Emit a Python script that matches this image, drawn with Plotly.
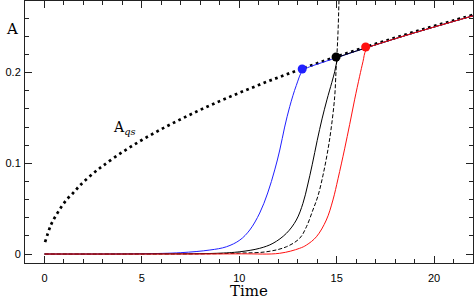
import plotly.graph_objects as go

# Quasi-steady curve A_qs (dotted)
t_qs = [0.03, 0.33, 0.63, 0.9, 1.17, 1.46, 1.73, 2.0, 2.5, 3, 4, 5, 6, 7, 8, 9, 10,
        11, 12, 13, 14, 15, 16, 17, 18, 19, 20, 21, 22]
a_qs = [0.013, 0.032, 0.044, 0.053, 0.0607, 0.067, 0.0736, 0.0794, 0.0889, 0.0973,
        0.1124, 0.1257, 0.1377, 0.1487, 0.159, 0.1686, 0.1777, 0.1864, 0.1947,
        0.2026, 0.2103, 0.2177, 0.2248, 0.2317, 0.2384, 0.245, 0.2513, 0.2575, 0.2636]

# Blue run
t_blue = [0, 5, 7, 8.49, 9.34, 10.03, 10.54, 11.05, 11.46, 11.82, 12.08, 12.33, 12.59,
          12.93, 13.26, 13.6, 14, 15, 16, 17, 18, 19, 20, 21, 22]
a_blue = [0, 0.0003, 0.0015, 0.0044, 0.008, 0.0154, 0.0265, 0.0452, 0.0673, 0.0927,
          0.1147, 0.140, 0.1625, 0.186, 0.2025, 0.2063, 0.2093, 0.2165, 0.2238, 0.2307,
          0.2374, 0.244, 0.2503, 0.2565, 0.2626]

# Black solid run
t_black = [0, 5, 8.83, 10.03, 11.05, 11.73, 12.42, 12.93, 13.27, 13.5, 13.75, 14.0,
           14.25, 14.5, 14.75, 14.9, 15.0, 15.15, 15.4, 16, 17, 18, 19, 20, 21, 22]
a_black = [0, 0.0001, 0.0008, 0.0025, 0.0063, 0.0118, 0.0228, 0.0375, 0.0559, 0.075,
           0.099, 0.125, 0.149, 0.170, 0.189, 0.201, 0.211, 0.2172, 0.2195, 0.2238,
           0.2307, 0.2374, 0.244, 0.2503, 0.2565, 0.2626]

# Black dashed run (blows up)
t_dash = [0, 8, 10, 11.4, 12.42, 13.1, 13.45, 13.78, 14.04, 14.3, 14.55, 14.73, 14.9,
          14.97, 15.02, 15.07, 15.12, 15.16]
a_dash = [0, 0.0002, 0.001, 0.0025, 0.008, 0.0173, 0.0301, 0.0485, 0.064, 0.087,
          0.1147, 0.1404, 0.1735, 0.203, 0.222, 0.245, 0.28, 0.32]

# Red run
t_red = [0, 10, 12.07, 13.1, 13.45, 13.96, 14.47, 14.81, 15.07, 15.41, 15.67, 15.92,
         16.18, 16.35, 16.5, 16.75, 17, 18, 19, 20, 21, 22]
a_red = [0, 0.0002, 0.0008, 0.0063, 0.0099, 0.019, 0.0375, 0.0596, 0.083, 0.116,
         0.143, 0.170, 0.196, 0.212, 0.2245, 0.2288, 0.2307, 0.2374, 0.244, 0.2503,
         0.2565, 0.2626]

# Marker points where runs meet A_qs
dot_t = [13.23, 14.97, 16.49]
dot_a = [0.204, 0.2173, 0.2283]
dot_colors = ["#2020ff", "#000000", "#ff1010"]

fig = go.Figure()
fig.add_trace(go.Scatter(x=t_qs, y=a_qs, mode="lines", line_shape="spline",
                         line=dict(color="black", width=2.7, dash="2.7px,3.5px")))
fig.add_trace(go.Scatter(x=t_blue, y=a_blue, mode="lines", line_shape="spline",
                         line=dict(color="#2020ff", width=1, smoothing=1)))
fig.add_trace(go.Scatter(x=t_black, y=a_black, mode="lines", line_shape="spline",
                         line=dict(color="black", width=1, smoothing=1)))
fig.add_trace(go.Scatter(x=t_dash, y=a_dash, mode="lines", line_shape="spline",
                         line=dict(color="black", width=1, dash="4px,2px", smoothing=1)))
fig.add_trace(go.Scatter(x=t_red, y=a_red, mode="lines", line_shape="spline",
                         line=dict(color="#ff1010", width=1, smoothing=1)))
fig.add_trace(go.Scatter(x=dot_t, y=dot_a, mode="markers",
                         marker=dict(color=dot_colors, size=9, line=dict(width=0))))

axis_common = dict(showgrid=False, zeroline=False, showline=True, linecolor="#222",
                   linewidth=1, mirror="allticks", ticks="inside", ticklen=7,
                   tickcolor="#222", automargin=False,
                   tickfont=dict(family="Liberation Sans", size=11, color="black"))
fig.update_xaxes(range=[-1, 22], tickvals=[0, 5, 10, 15, 20], ticklabelstandoff=5,
                 minor=dict(dtick=1, tick0=0, ticks="inside", ticklen=4, tickcolor="#222"),
                 title=dict(text="Time", font=dict(family="DejaVu Serif", size=15,
                                                   color="black"), standoff=4),
                 **axis_common)
fig.update_yaxes(range=[-0.0099, 0.279], tickvals=[0, 0.1, 0.2],
                 ticktext=["0", "0.1", "0.2"], ticklabelstandoff=1,
                 minor=dict(dtick=0.02, tick0=0, ticks="inside", ticklen=4, tickcolor="#222"),
                 **axis_common)

fig.add_annotation(x=-0.03, y=0.894, xref="paper", yref="paper", text="A",
                   xanchor="center", yanchor="middle",
                   showarrow=False, font=dict(family="DejaVu Serif", size=15, color="black"))
fig.add_annotation(x=4.1, y=0.139, xref="x", yref="y", text="A<sub><i>qs</i></sub>",
                   showarrow=False, font=dict(family="DejaVu Serif", size=14, color="black"))

fig.update_layout(width=474, height=300, margin=dict(l=25, r=1, t=1, b=37),
                  plot_bgcolor="white", paper_bgcolor="white", showlegend=False)

fig.write_html("out.html", config={"displayModeBar": False},
               post_script="document.body.style.margin='0px';"
                           "document.body.style.overflow='hidden';")
